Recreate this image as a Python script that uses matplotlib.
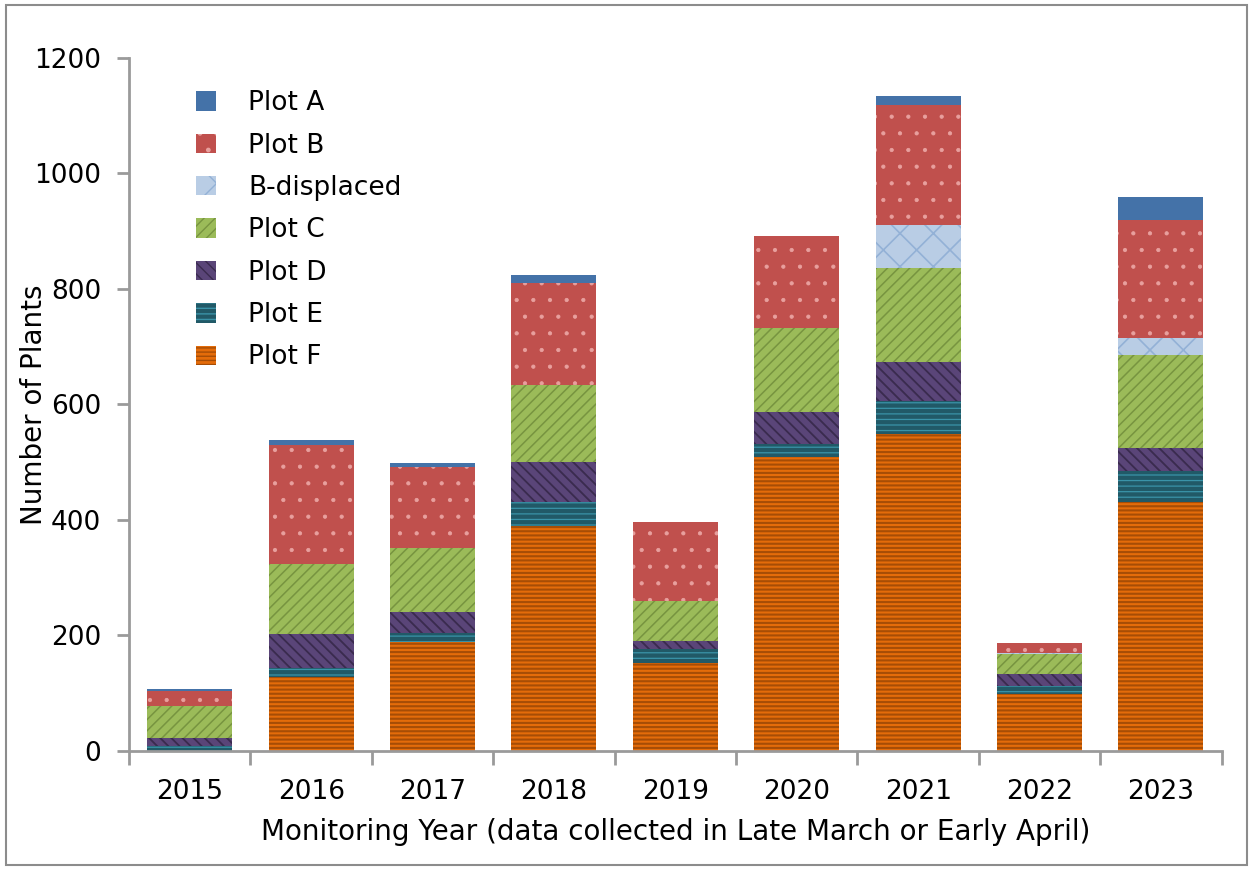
import matplotlib
matplotlib.use("Agg")
import matplotlib.pyplot as plt
from matplotlib.patches import Rectangle
import numpy as np

plt.rcParams['font.family'] = ['DejaVu Sans']

years = ["2015", "2016", "2017", "2018", "2019", "2020", "2021", "2022", "2023"]
plot_f = [0, 128, 188, 390, 152, 508, 548, 99, 431]
plot_e = [8, 16, 16, 41, 25, 24, 58, 13, 54]
plot_d = [15, 59, 37, 69, 14, 54, 67, 22, 40]
plot_c = [55, 120, 111, 134, 69, 146, 163, 33, 160]
b_displaced = [0, 0, 0, 0, 0, 0, 75, 2, 29]
plot_b = [26, 206, 139, 175, 137, 160, 207, 18, 204]
plot_a = [3, 10, 8, 14, 0, 0, 15, 0, 40]

# name, values, face colour, hatch colour, hatch, hatch linewidth
series = [
    ("Plot F", plot_f, "#E46C0A", "#A64D06", "----", 1.5),
    ("Plot E", plot_e, "#215967", "#3A93A8", "---", 0.9),
    ("Plot D", plot_d, "#5A4578", "#3A2B4E", "\\\\\\", 1.3),
    ("Plot C", plot_c, "#9BBB59", "#779440", "///", 1.1),
    ("B-displaced", b_displaced, "#B9CDE5", "#93B1D6", "x", 1.2),
    ("Plot B", plot_b, "#C0504D", "#E8A09E", ".", 0.6),
    ("Plot A", plot_a, "#4472A8", "#4472A8", "", 1.0),
]

fig = plt.figure(figsize=(12.53, 8.69), dpi=100)
ax = fig.add_axes([0.103, 0.1358, 0.872, 0.798])

x = np.arange(len(years))
bottom = np.zeros(len(years))
handles = []
for name, vals, fc, hc, hatch, hlw in series:
    v = np.array(vals, dtype=float)
    with plt.rc_context({'hatch.linewidth': hlw}):
        bars = ax.bar(x, v, width=0.7, bottom=bottom, color=fc, edgecolor=hc,
                      linewidth=0, hatch=hatch, label=name)
    handles.append(bars)
    bottom += v

ax.set_xlim(-0.5, len(years) - 0.5)
ax.set_ylim(0, 1200)
ax.set_yticks(np.arange(0, 1201, 200))
ax.set_xticks(x)
ax.set_xticklabels(years)
ax.set_xticks(np.arange(-0.5, len(years)), minor=True)
ax.tick_params(axis='x', which='major', length=0, labelsize=19, pad=20, colors='black')
ax.tick_params(axis='x', which='minor', length=10, width=2, color='#9A9A9A')
ax.tick_params(axis='y', length=9, width=2, color='#9A9A9A', labelsize=19, pad=11)

for s in ['top', 'right']:
    ax.spines[s].set_visible(False)
for s in ['left', 'bottom']:
    ax.spines[s].set_color('#9A9A9A')
    ax.spines[s].set_linewidth(2)

ax.set_ylabel("Number of Plants", fontsize=20, va='center')
ax.yaxis.set_label_coords(-0.087, 0.5)
ax.set_xlabel("Monitoring Year (data collected in Late March or Early April)", fontsize=20, va='center')
ax.xaxis.set_label_coords(0.5, -0.117)

leg = ax.legend(handles=handles[::-1], loc='upper left', bbox_to_anchor=(0.052, 0.968),
                frameon=False, fontsize=19, handlelength=0.75, handleheight=0.75,
                labelspacing=0.62, handletextpad=1.2, borderaxespad=0)

fig.patches.append(Rectangle((0.005, 0.005), 0.99, 0.989, transform=fig.transFigure,
                             fill=False, edgecolor='#8C8C8C', linewidth=1.5))

fig.savefig("out.png", dpi=100)
